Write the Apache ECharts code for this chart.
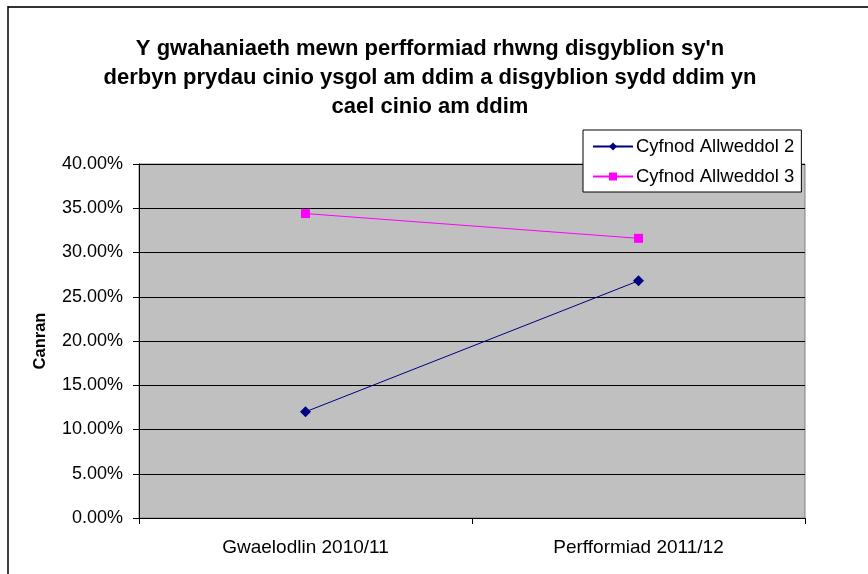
<!DOCTYPE html>
<html><head><meta charset="utf-8">
<script src="https://cdn.jsdelivr.net/npm/echarts@6/dist/echarts.min.js"></script>
<style>html,body{margin:0;padding:0;background:#fff}#c{width:868px;height:574px}</style>
</head><body><div id="c"></div>
<script>
const categories = ['Gwaelodlin 2010/11', 'Perfformiad 2011/12'];
const seriesNames = ['Cyfnod Allweddol 2', 'Cyfnod Allweddol 3'];
const ks2 = [0.120, 0.268];
const ks3 = [0.344, 0.316];
const yTicks = { min: 0, max: 0.4, interval: 0.05 };
const titleText = "Y gwahaniaeth mewn perfformiad rhwng disgyblion sy'n\nderbyn prydau cinio ysgol am ddim a disgyblion sydd ddim yn\ncael cinio am ddim";

const chart = echarts.init(document.getElementById('c'), null, {renderer: 'canvas'});
chart.setOption({
  animation: false,
  backgroundColor: '#fff',
  textStyle: { fontFamily: 'Liberation Sans, Arial, sans-serif' },
  title: {
    text: titleText,
    left: 425, textAlign: 'center', top: 29,
    textStyle: { fontSize: 22, fontWeight: 'bold', color: '#000', lineHeight: 29, fontFamily: 'Liberation Sans, Arial, sans-serif' }
  },
  graphic: [
    { type: 'line', shape: { x1: 8, y1: 7, x2: 868, y2: 7 }, style: { stroke: '#333', lineWidth: 2 } },
    { type: 'line', shape: { x1: 8, y1: 6, x2: 8, y2: 574 }, style: { stroke: '#000', lineWidth: 1.5 } }
  ],
  legend: {
    orient: 'vertical', left: 583, top: 130,
    padding: [7, 7, 6, 9],
    itemGap: 11,
    itemWidth: 40, itemHeight: 10,
    backgroundColor: '#fff', borderColor: '#000', borderWidth: 1,
    textStyle: { fontSize: 18.5, color: '#000', padding: [0, 0, 0, -2], fontFamily: 'Liberation Sans, Arial, sans-serif' },
    data: seriesNames
  },
  grid: { left: 139, right: 63, top: 164, bottom: 56, show: true, backgroundColor: '#c0c0c0', borderColor: '#808080', borderWidth: 1, containLabel: false },
  xAxis: {
    type: 'category', data: categories, boundaryGap: true,
    axisLine: { lineStyle: { color: '#000', width: 1 } },
    axisTick: { show: true, length: 6, lineStyle: { color: '#000' } },
    axisLabel: { fontSize: 19, color: '#000', margin: 20 }
  },
  yAxis: {
    type: 'value', min: yTicks.min, max: yTicks.max, interval: yTicks.interval,
    name: 'Canran', nameLocation: 'middle', nameGap: 90, nameRotate: 90,
    nameTextStyle: { fontSize: 16.5, fontWeight: 'bold', color: '#000' },
    axisLine: { show: true, lineStyle: { color: '#000' } },
    axisTick: { show: true, length: 6, lineStyle: { color: '#000' } },
    axisLabel: { fontSize: 18, color: '#000', margin: 16, formatter: v => (v * 100).toFixed(2) + '%' },
    splitLine: { show: true, lineStyle: { color: '#000', width: 1 } }
  },
  series: [
    { name: seriesNames[0], type: 'line', data: ks2, symbol: 'diamond', symbolSize: 11,
      lineStyle: { color: '#000080', width: 1 }, itemStyle: { color: '#000080' } },
    { name: seriesNames[1], type: 'line', data: ks3, symbol: 'rect', symbolSize: 9,
      lineStyle: { color: '#ff00ff', width: 1 }, itemStyle: { color: '#ff00ff' } }
  ]
});
</script></body></html>
